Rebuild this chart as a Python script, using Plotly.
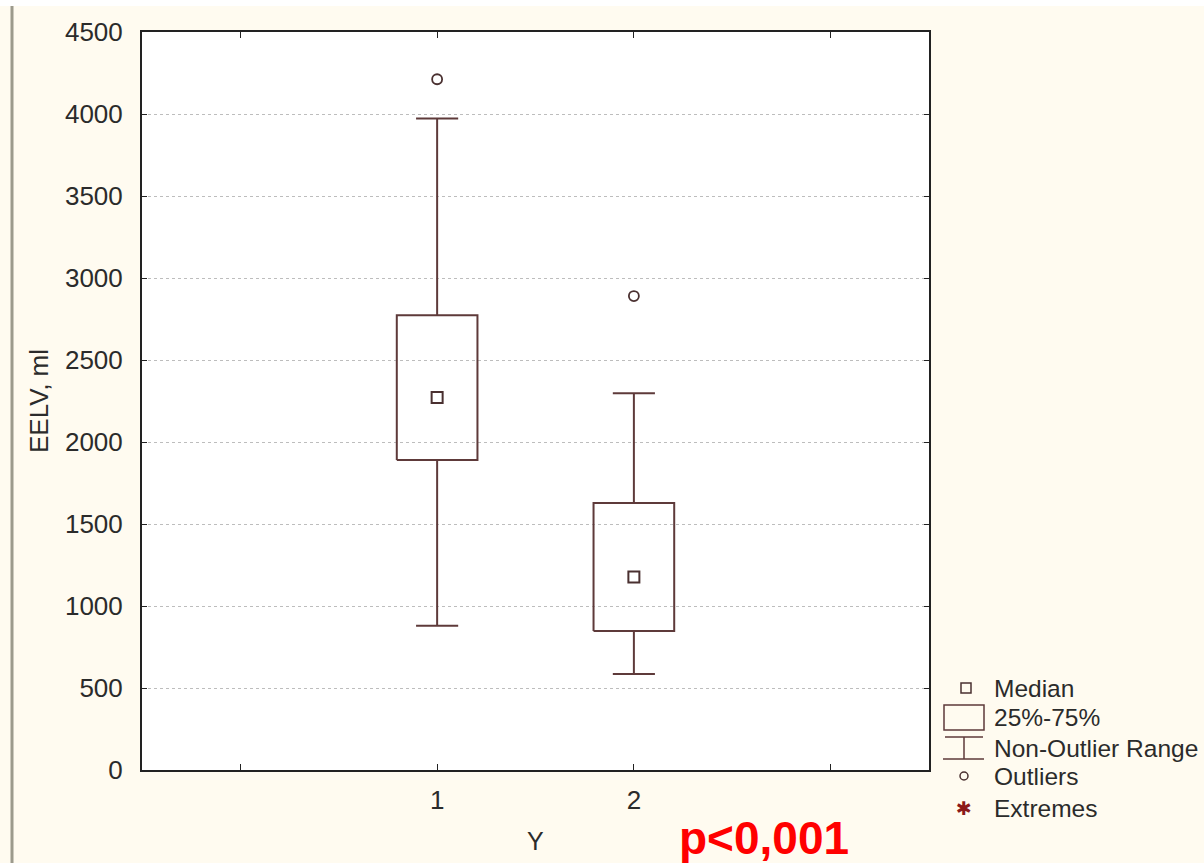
import plotly.graph_objects as go

# ---- data ----
categories = [1, 2]
lower_whisker = [880, 585]
q1_values = [1890, 848]
medians = [2272, 1177]
q3_values = [2773, 1628]
upper_whisker = [3972, 2298]
outliers = [4212, 2890]

tick_values = [0, 1, 2, 3]
tick_labels = ["", "1", "2", ""]
y_ticks = [0, 500, 1000, 1500, 2000, 2500, 3000, 3500, 4000, 4500]

# ---- styling ----
BOX_COLOR = "#5e3a3a"
MED_COLOR = "#4a3030"
FONT = "Liberation Sans, Arial, sans-serif"
TXT = "#2b2b2b"
half_box = 0.205
half_cap = 0.107

fig = go.Figure()

# boxes
bx, by = [], []
for c, lo, hi in zip(categories, q1_values, q3_values):
    bx += [c - half_box, c + half_box, c + half_box, c - half_box, c - half_box, None]
    by += [lo, lo, hi, hi, lo, None]
fig.add_trace(go.Scatter(x=bx, y=by, mode="lines",
                         line=dict(color=BOX_COLOR, width=2), hoverinfo="skip", showlegend=False))

# whiskers
wx, wy = [], []
for c, lw, lo, hi, uw in zip(categories, lower_whisker, q1_values, q3_values, upper_whisker):
    wx += [c, c, None, c, c, None,
           c - half_cap, c + half_cap, None, c - half_cap, c + half_cap, None]
    wy += [hi, uw, None, lo, lw, None, uw, uw, None, lw, lw, None]
fig.add_trace(go.Scatter(x=wx, y=wy, mode="lines",
                         line=dict(color=BOX_COLOR, width=2), hoverinfo="skip", showlegend=False))

# medians
fig.add_trace(go.Scatter(x=categories, y=medians, mode="markers",
                         marker=dict(symbol="square-open", size=11, color=MED_COLOR,
                                     line=dict(width=2, color=MED_COLOR)),
                         showlegend=False))
# outliers
fig.add_trace(go.Scatter(x=categories, y=outliers, mode="markers",
                         marker=dict(symbol="circle-open", size=10, color=MED_COLOR,
                                     line=dict(width=1.8, color=MED_COLOR)),
                         showlegend=False))

L, R, T, B = 142, 275, 32, 93
W, H = 1204, 863
pw, ph = W - L - R, H - T - B


def px(x):
    return (x - L) / pw


def py(y):
    return 1 - (y - T) / ph


shapes = []
annotations = []

# left grey frame line and top white strip
shapes.append(dict(type="rect", xref="paper", yref="paper", x0=px(0), x1=px(W), y0=py(0), y1=py(6),
                   fillcolor="white", line=dict(width=0), layer="below"))
shapes.append(dict(type="line", xref="paper", yref="paper", x0=px(12), x1=px(12), y0=py(6), y1=py(H),
                   line=dict(color="#9c9a8c", width=3)))

# ---- manual legend ----
leg_text_x = px(992)
items = [("Median", 688), ("25%-75%", 717), ("Non-Outlier Range", 748), ("Outliers", 776), ("Extremes", 808)]
for label, yy in items:
    annotations.append(dict(xref="paper", yref="paper", x=leg_text_x, y=py(yy), text=label,
                            showarrow=False, xanchor="left", yanchor="middle",
                            font=dict(family=FONT, size=24.5, color=TXT)))
# median symbol
shapes.append(dict(type="rect", xref="paper", yref="paper", x0=px(961), x1=px(971), y0=py(683), y1=py(693),
                   line=dict(color=MED_COLOR, width=1.5)))
# box symbol
shapes.append(dict(type="rect", xref="paper", yref="paper", x0=px(944), x1=px(984), y0=py(705), y1=py(730),
                   line=dict(color=BOX_COLOR, width=1.5)))
# whisker symbol
shapes.append(dict(type="line", xref="paper", yref="paper", x0=px(945), x1=px(983), y0=py(737), y1=py(737),
                   line=dict(color=BOX_COLOR, width=1.5)))
shapes.append(dict(type="line", xref="paper", yref="paper", x0=px(964), x1=px(964), y0=py(737), y1=py(759),
                   line=dict(color=BOX_COLOR, width=1.5)))
shapes.append(dict(type="line", xref="paper", yref="paper", x0=px(943), x1=px(984), y0=py(759), y1=py(759),
                   line=dict(color=BOX_COLOR, width=1.5)))
# outlier symbol
shapes.append(dict(type="circle", xref="paper", yref="paper", x0=px(960), x1=px(968), y0=py(772), y1=py(780),
                   line=dict(color=MED_COLOR, width=1.5)))
# extremes symbol
annotations.append(dict(xref="paper", yref="paper", x=px(964), y=py(808), text="✱",
                        showarrow=False, xanchor="center", yanchor="middle",
                        font=dict(family="DejaVu Sans", size=19, color="#8b1a1a")))

# axis titles
annotations.append(dict(xref="paper", yref="paper", x=px(39), y=py(401), text="EELV, ml", textangle=-90,
                        showarrow=False, xanchor="center", yanchor="middle",
                        font=dict(family=FONT, size=26, color=TXT)))
annotations.append(dict(xref="paper", yref="paper", x=px(535), y=py(841), text="Y",
                        showarrow=False, xanchor="center", yanchor="middle",
                        font=dict(family=FONT, size=25, color=TXT)))
# p-value
annotations.append(dict(xref="paper", yref="paper", x=px(764), y=py(838), text="<b>p&lt;0,001</b>",
                        showarrow=False, xanchor="center", yanchor="middle",
                        font=dict(family=FONT, size=46, color="#ff0000")))

fig.update_layout(
    width=W, height=H,
    margin=dict(l=L, r=R, t=T, b=B),
    paper_bgcolor="#fffbf0",
    plot_bgcolor="white",
    shapes=shapes,
    annotations=annotations,
    showlegend=False,
    xaxis=dict(range=[-0.5, 3.5], tickvals=tick_values, ticktext=tick_labels,
               showgrid=False, zeroline=False, showline=True, linecolor="#222", linewidth=2,
               mirror="ticks", ticks="inside", ticklen=6, tickcolor="#222", tickwidth=1,
               tickfont=dict(family=FONT, size=26, color=TXT), ticklabelstandoff=6),
    yaxis=dict(range=[0, 4500], tickvals=y_ticks, showgrid=True, gridcolor="#bdbdbd", griddash="dot",
               gridwidth=1, zeroline=False, showline=True, linecolor="#222", linewidth=2,
               mirror="ticks", ticks="inside", ticklen=5, tickcolor="#222", tickwidth=1,
               tickfont=dict(family=FONT, size=26, color=TXT), ticklabelstandoff=12),
)

fig.write_html("out.html")
